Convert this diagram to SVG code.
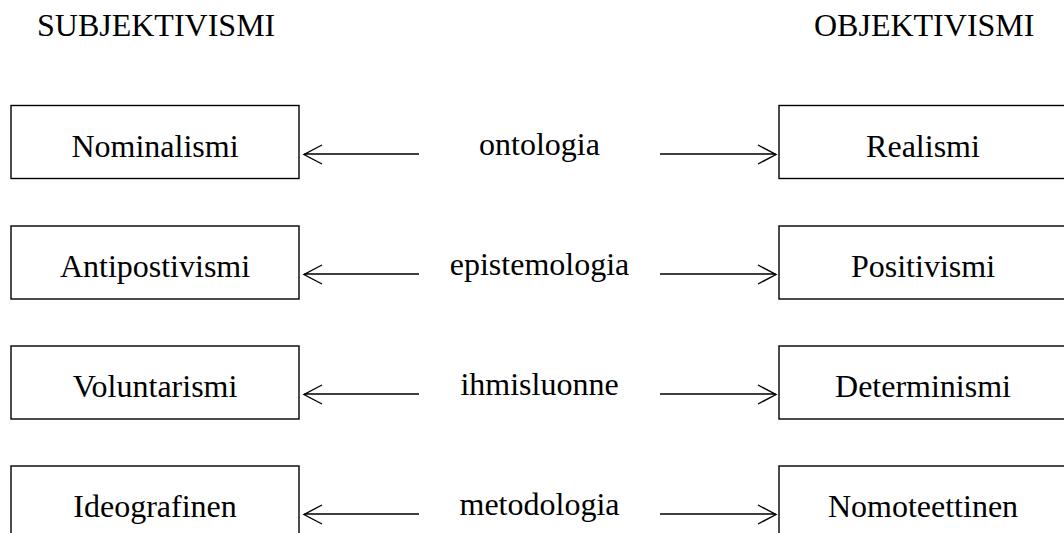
<svg xmlns="http://www.w3.org/2000/svg" width="1064" height="533" viewBox="0 0 1064 533">
<style>
text{font-family:"Liberation Serif","Times New Roman",serif;font-size:32px;fill:#000}
.c{text-anchor:middle}
rect{fill:#fff;stroke:#000;stroke-width:1.4}
.ln{stroke:#000;stroke-width:1.4;fill:none}
</style>
<rect x="0" y="0" width="1064" height="533" style="fill:#fff;stroke:none"/>
<g id="headers">
<text x="37" y="36">SUBJEKTIVISMI</text>
<text x="814" y="36">OBJEKTIVISMI</text>
</g>
<g id="n-nominalismi"><rect x="11" y="105.5" width="288" height="73"/><text class="c" x="155" y="157">Nominalismi</text></g>
<g id="n-realismi"><rect x="779" y="105.5" width="288" height="73"/><text class="c" x="923" y="157">Realismi</text></g>
<g id="n-antipostivismi"><rect x="11" y="226" width="288" height="73"/><text class="c" x="155" y="277">Antipostivismi</text></g>
<g id="n-positivismi"><rect x="779" y="226" width="288" height="73"/><text class="c" x="923" y="277">Positivismi</text></g>
<g id="n-voluntarismi"><rect x="11" y="346" width="288" height="73"/><text class="c" x="155" y="397">Voluntarismi</text></g>
<g id="n-determinismi"><rect x="779" y="346" width="288" height="73"/><text class="c" x="923" y="397">Determinismi</text></g>
<g id="n-ideografinen"><rect x="11" y="466" width="288" height="73"/><text class="c" x="155" y="517">Ideografinen</text></g>
<g id="n-nomoteettinen"><rect x="779" y="466" width="288" height="73"/><text class="c" x="923" y="517">Nomoteettinen</text></g>
<g id="labels">
<text class="c" x="539.5" y="155">ontologia</text>
<text class="c" x="539.5" y="275">epistemologia</text>
<text class="c" x="539.5" y="395">ihmisluonne</text>
<text class="c" x="539.5" y="515">metodologia</text>
</g>
<g id="connectors">
<g transform="translate(0,0)">
<path class="ln" d="M304,154 H419 M322,145 L304,154.5 L322,164"/>
<path class="ln" d="M660,154 H776 M758,145 L776,154.5 L758,164"/>
</g>
<g transform="translate(0,120)">
<path class="ln" d="M304,154 H419 M322,145 L304,154.5 L322,164"/>
<path class="ln" d="M660,154 H776 M758,145 L776,154.5 L758,164"/>
</g>
<g transform="translate(0,240)">
<path class="ln" d="M304,154 H419 M322,145 L304,154.5 L322,164"/>
<path class="ln" d="M660,154 H776 M758,145 L776,154.5 L758,164"/>
</g>
<g transform="translate(0,360)">
<path class="ln" d="M304,154 H419 M322,145 L304,154.5 L322,164"/>
<path class="ln" d="M660,154 H776 M758,145 L776,154.5 L758,164"/>
</g>
</g>
</svg>
